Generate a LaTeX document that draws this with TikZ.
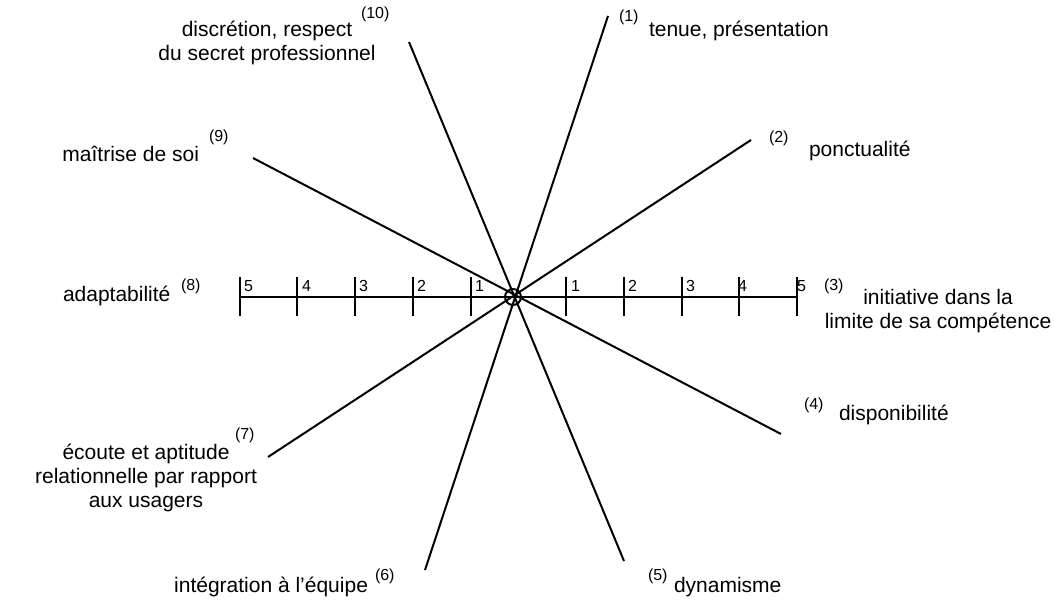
\documentclass[tikz,border=0pt]{standalone}
\usepackage{fontspec}
\setmainfont{Liberation Sans}
\usetikzlibrary{positioning}

\begin{document}
\begin{tikzpicture}[x=0.5pt, y=-0.5pt, line width=1pt,
  every node/.style={inner sep=0pt, font=\fontsize{10.5}{12}\selectfont},
  sup/.style={font=\fontsize{8}{9}\selectfont},
  num/.style={font=\fontsize{8}{9}\selectfont, anchor=base west}]
  \useasboundingbox (0,0) rectangle (1054,603);
  % Centre and axis ends
  \node (c) [circle, draw, minimum size=8pt] at (513,297) {};
  \coordinate (e1) at (608,16);
  \coordinate (e2) at (751,140);
  \coordinate (e3) at (797,297);
  \coordinate (e4) at (781,434);
  \coordinate (e5) at (624,561);
  \coordinate (e6) at (425,570);
  \coordinate (e7) at (268,457);
  \coordinate (e8) at (240,297);
  \coordinate (e9) at (253,158);
  \coordinate (e10) at (409,42);
  % Axes
  \foreach \src/\dst in {e1/e6,e2/e7,e3/e8,e4/e9,e5/e10}
  {\draw (\src) -- (\dst);}
  % Scale
  \foreach \x in {240,297,355,413,471,566,624,682,739,797}
  {\draw (\x,277) -- (\x,316);}
  \foreach \x/\n in {243/5,301/4,358/3,416/2,474/1}
  {\node (l\n) [num] at (\x,292) {\n};}
  \foreach \x/\n in {570/1,627/2,685/3,737/4,796/5}
  {\node (r\n) [num] at (\x,292) {\n};}
  % Labels (base = last line)
  \node (lab1) [anchor=base west] at (648,37) {tenue, présentation};
  \node (s1) [sup, anchor=base west] at (618,22) {(1)};
  \node (lab2) [anchor=base west] at (808,157) {ponctualité};
  \node (s2) [sup, anchor=base west] at (768,143) {(2)};
  \node (lab3) [anchor=base, align=center] at (938,329) {initiative dans la\\limite de sa compétence};
  \node (s3) [sup, anchor=base west] at (823,291) {(3)};
  \node (lab4) [anchor=base west] at (838,421) {disponibilité};
  \node (s4) [sup, anchor=base west] at (803,410) {(4)};
  \node (lab5) [anchor=base west] at (673,592) {dynamisme};
  \node (s5) [sup, anchor=base west] at (647,581) {(5)};
  \node (lab6) [anchor=base east] at (369,592) {intégration à l’équipe};
  \node (s6) [sup, anchor=base west] at (374,581) {(6)};
  \node (lab7) [anchor=base, align=center] at (146,508) {écoute et aptitude\\relationnelle par rapport\\aux usagers};
  \node (s7) [sup, anchor=base west] at (234,440) {(7)};
  \node (lab8) [anchor=base west] at (62,302) {adaptabilité};
  \node (s8) [sup, anchor=base west] at (180,291) {(8)};
  \node (lab9) [anchor=base east] at (200,162) {maîtrise de soi};
  \node (s9) [sup, anchor=base west] at (208,142) {(9)};
  \node (lab10) [anchor=base, align=center] at (267,61) {discrétion, respect\\du secret professionnel};
  \node (s10) [sup, anchor=base west] at (360,19) {(10)};
\end{tikzpicture}
\end{document}
